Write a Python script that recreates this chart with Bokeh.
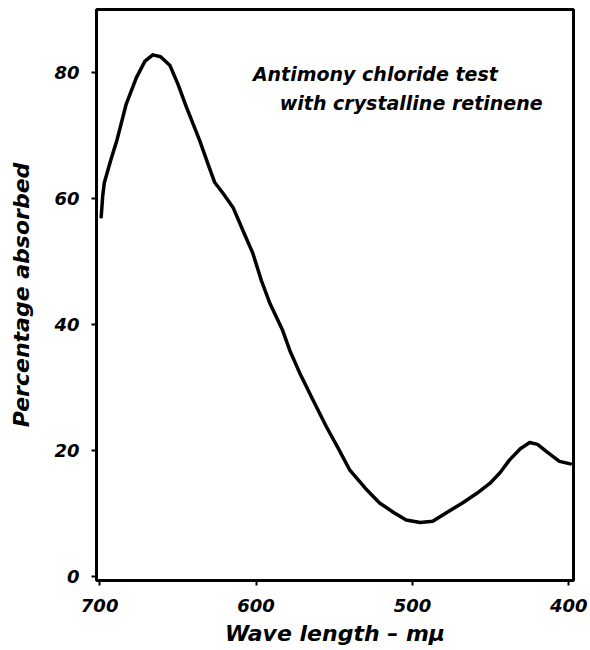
from bokeh.plotting import figure
from bokeh.models import Range1d, FixedTicker, Label
from bokeh.embed import file_html
from bokeh.resources import INLINE

# Data
wavelength = [699, 698, 697, 693, 689, 683, 676.5, 671, 666, 661, 655, 650, 644.5, 636, 630, 626.5, 621,
              614.7, 608.3, 602, 596.6, 591, 583, 578.4, 572, 563.5, 555, 547.5, 540, 530,
              521, 512, 504, 495, 487, 478, 468, 459, 450.5, 444, 438, 431, 425, 420, 414,
              406, 399]
absorbed = [57.1, 60.5, 62.5, 66.0, 69.2, 75.0, 79.2, 81.8, 82.8, 82.5, 81.1, 78.2, 74.5, 69.2, 65.0, 62.6, 60.8,
            58.6, 54.9, 51.3, 47.0, 43.3, 39.1, 35.9, 32.3, 28.0, 23.8, 20.4, 16.9, 14.0,
            11.7, 10.2, 9.0, 8.6, 8.8, 10.2, 11.7, 13.2, 14.8, 16.5, 18.5, 20.3, 21.3, 21.0, 19.8,
            18.3, 17.9]
x_ticks = [700, 600, 500, 400]
y_ticks = [0, 20, 40, 60, 80]
annotation_lines = ["Antimony chloride test", "with crystalline retinene"]

FONT = "DejaVu Sans"

p = figure(width=588, height=648, output_backend="svg", toolbar_location=None,
           x_range=Range1d(702, 397), y_range=Range1d(-0.6, 90),
           min_border_left=96, min_border_right=15, min_border_top=9, min_border_bottom=65)

p.line(wavelength, absorbed, line_color="black", line_width=3.5, line_join="round", line_cap="round")

p.grid.visible = False
p.outline_line_color = "black"
p.outline_line_width = 3
p.background_fill_color = "white"
p.border_fill_color = "white"

for ax in (p.xaxis[0], p.yaxis[0]):
    ax.axis_line_color = "black"
    ax.axis_line_width = 3
    ax.major_tick_line_color = "black"
    ax.major_tick_line_width = 2
    ax.major_tick_out = 5
    ax.major_tick_in = 0
    ax.minor_tick_line_color = None
    ax.major_label_text_font = FONT
    ax.major_label_text_font_style = "bold italic"
    ax.major_label_text_font_size = "18px"
    ax.major_label_text_color = "black"
    ax.axis_label_text_font = FONT
    ax.axis_label_text_font_style = "bold italic"
    ax.axis_label_text_font_size = "22px"
    ax.axis_label_text_color = "black"

p.xaxis.ticker = FixedTicker(ticks=x_ticks)
p.yaxis.ticker = FixedTicker(ticks=y_ticks)
p.xaxis.major_label_standoff = 13
p.yaxis.major_label_standoff = 12
p.xaxis.axis_label = "Wave length – mμ"
p.yaxis.axis_label = "Percentage absorbed"
p.xaxis.axis_label_standoff = 6
p.yaxis.axis_label_standoff = 17

p.add_layout(Label(x=602, y=79.8, text=annotation_lines[0],
                   text_font=FONT, text_font_style="bold italic", text_font_size="19px",
                   text_baseline="middle", text_align="left", text_color="black"))
p.add_layout(Label(x=584.8, y=75.1, text=annotation_lines[1],
                   text_font=FONT, text_font_style="bold italic", text_font_size="19px",
                   text_baseline="middle", text_align="left", text_color="black"))

open("out.html", "w").write(file_html(p, INLINE))
